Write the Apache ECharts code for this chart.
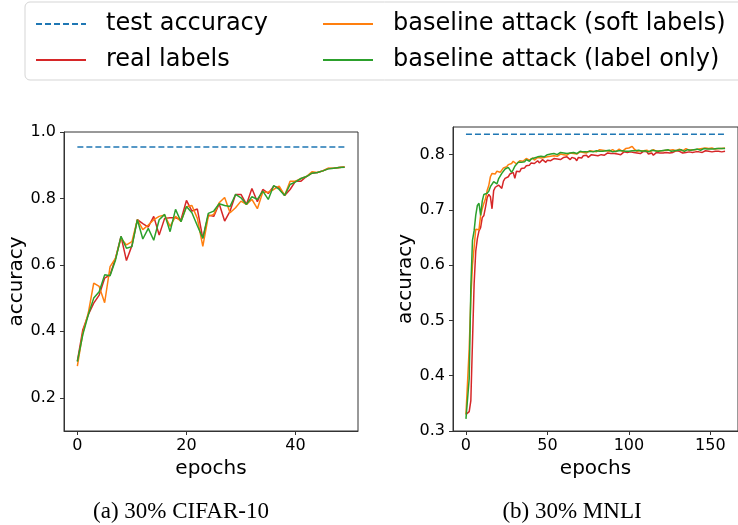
<!DOCTYPE html>
<html>
<head>
<meta charset="utf-8">
<script src="https://cdn.jsdelivr.net/npm/echarts@6/dist/echarts.min.js"></script>
<style>html,body{margin:0;padding:0;background:#fff;}#c{width:738px;height:525px;}</style>
</head>
<body>
<div id="c"></div>
<script>
// ---- data ----
const seriesNames = ['test accuracy', 'real labels', 'baseline attack (soft labels)', 'baseline attack (label only)'];
const captions = ['(a) 30% CIFAR-10', '(b) 30% MNLI'];
const cifarTest = 0.955;
const mnliTest = 0.837;
const cifarXTicks = [0, 20, 40];
const cifarYTicks = [0.2, 0.4, 0.6, 0.8, 1.0];
const mnliXTicks = [0, 50, 100, 150];
const mnliYTicks = [0.3, 0.4, 0.5, 0.6, 0.7, 0.8];

const cifarReal = [
0.310, 0.405, 0.450, 0.485, 0.509, 0.560, 0.570, 0.620, 0.686, 0.613,
0.658, 0.736, 0.724, 0.714, 0.746, 0.690, 0.740, 0.742, 0.742, 0.736,
0.794, 0.762, 0.768, 0.680, 0.750, 0.746, 0.784, 0.732, 0.762, 0.812,
0.812, 0.782, 0.830, 0.790, 0.827, 0.815, 0.837, 0.832, 0.809, 0.827,
0.852, 0.852, 0.866, 0.876, 0.878, 0.883, 0.890, 0.891, 0.893, 0.895];
const cifarSoft = [
0.295, 0.395, 0.455, 0.545, 0.535, 0.486, 0.595, 0.620, 0.680, 0.660,
0.670, 0.736, 0.706, 0.720, 0.736, 0.746, 0.750, 0.716, 0.746, 0.731,
0.775, 0.779, 0.740, 0.656, 0.746, 0.752, 0.787, 0.803, 0.757, 0.772,
0.792, 0.782, 0.797, 0.769, 0.819, 0.819, 0.827, 0.837, 0.809, 0.852,
0.852, 0.860, 0.866, 0.880, 0.878, 0.883, 0.891, 0.891, 0.893, 0.895];
const cifarLabel = [
0.309, 0.390, 0.450, 0.500, 0.519, 0.570, 0.567, 0.615, 0.686, 0.650,
0.655, 0.736, 0.678, 0.710, 0.674, 0.736, 0.752, 0.700, 0.767, 0.730,
0.776, 0.757, 0.718, 0.680, 0.755, 0.762, 0.784, 0.779, 0.776, 0.812,
0.802, 0.782, 0.805, 0.797, 0.822, 0.797, 0.839, 0.827, 0.809, 0.842,
0.850, 0.860, 0.866, 0.876, 0.878, 0.883, 0.889, 0.891, 0.893, 0.894];

const mnliReal = [
0.330, 0.332, 0.335, 0.355, 0.460, 0.565, 0.625, 0.648, 0.662, 0.668,
0.686, 0.690, 0.705, 0.722, 0.728, 0.724, 0.702, 0.735, 0.741, 0.738,
0.745, 0.748, 0.739, 0.752, 0.757, 0.754, 0.760, 0.765, 0.762, 0.768,
0.757, 0.770, 0.772, 0.769, 0.775, 0.778, 0.776, 0.780, 0.783, 0.781,
0.785, 0.787, 0.784, 0.786, 0.789, 0.785, 0.788, 0.791, 0.789, 0.786,
0.790, 0.792, 0.789, 0.791, 0.793, 0.790, 0.792, 0.795, 0.791, 0.793,
0.795, 0.792, 0.796, 0.794, 0.791, 0.795, 0.797, 0.793, 0.789, 0.795,
0.797, 0.794, 0.798, 0.796, 0.799, 0.795, 0.798, 0.800, 0.797, 0.799,
0.801, 0.798, 0.795, 0.800, 0.802, 0.799, 0.801, 0.803, 0.800, 0.802,
0.799, 0.802, 0.804, 0.801, 0.803, 0.800, 0.803, 0.805, 0.802, 0.804,
0.803, 0.805, 0.802, 0.804, 0.806, 0.803, 0.805, 0.802, 0.804, 0.806,
0.803, 0.805, 0.801, 0.800, 0.803, 0.799, 0.802, 0.804, 0.801, 0.803,
0.805, 0.803, 0.806, 0.804, 0.805, 0.803, 0.806, 0.804, 0.805, 0.807,
0.804, 0.806, 0.805, 0.803, 0.806, 0.804, 0.807, 0.805, 0.806, 0.804,
0.806, 0.805, 0.807, 0.805, 0.806, 0.804, 0.806, 0.807, 0.805, 0.806,
0.806, 0.805, 0.807, 0.806, 0.805, 0.806, 0.806, 0.805, 0.806, 0.806];
const mnliSoft = [
0.330, 0.328, 0.450, 0.540, 0.600, 0.632, 0.665, 0.668, 0.664, 0.690,
0.702, 0.712, 0.720, 0.735, 0.744, 0.760, 0.766, 0.768, 0.765, 0.770,
0.772, 0.768, 0.771, 0.776, 0.773, 0.778, 0.782, 0.779, 0.784, 0.788,
0.787, 0.783, 0.785, 0.789, 0.791, 0.788, 0.790, 0.793, 0.792, 0.790,
0.791, 0.794, 0.790, 0.793, 0.795, 0.792, 0.794, 0.797, 0.795, 0.793,
0.796, 0.799, 0.797, 0.794, 0.798, 0.800, 0.797, 0.799, 0.801, 0.798,
0.800, 0.802, 0.799, 0.801, 0.803, 0.800, 0.802, 0.804, 0.801, 0.803,
0.805, 0.802, 0.804, 0.806, 0.803, 0.805, 0.807, 0.804, 0.806, 0.808,
0.805, 0.807, 0.809, 0.806, 0.808, 0.810, 0.807, 0.809, 0.806, 0.808,
0.809, 0.807, 0.805, 0.808, 0.810, 0.808, 0.806, 0.809, 0.811, 0.809,
0.812, 0.810, 0.815, 0.811, 0.808, 0.806, 0.808, 0.807, 0.805, 0.807,
0.806, 0.808, 0.806, 0.805, 0.807, 0.809, 0.807, 0.806, 0.808, 0.807,
0.809, 0.807, 0.806, 0.808, 0.810, 0.808, 0.807, 0.809, 0.808, 0.807,
0.809, 0.810, 0.808, 0.807, 0.809, 0.811, 0.809, 0.808, 0.810, 0.809,
0.810, 0.809, 0.811, 0.810, 0.809, 0.811, 0.810, 0.812, 0.810, 0.811,
0.810, 0.812, 0.811, 0.810, 0.812, 0.811, 0.812, 0.811, 0.812, 0.812];
const mnliLabel = [
0.322, 0.324, 0.395, 0.560, 0.645, 0.662, 0.690, 0.708, 0.712, 0.690,
0.716, 0.728, 0.731, 0.730, 0.734, 0.742, 0.745, 0.751, 0.752, 0.747,
0.756, 0.761, 0.766, 0.769, 0.774, 0.776, 0.777, 0.774, 0.768, 0.773,
0.779, 0.781, 0.786, 0.789, 0.786, 0.783, 0.787, 0.791, 0.792, 0.788,
0.792, 0.791, 0.794, 0.793, 0.796, 0.794, 0.797, 0.799, 0.796, 0.798,
0.800, 0.797, 0.801, 0.799, 0.802, 0.803, 0.800, 0.802, 0.804, 0.801,
0.803, 0.805, 0.802, 0.804, 0.803, 0.806, 0.804, 0.805, 0.802, 0.804,
0.806, 0.803, 0.805, 0.807, 0.805, 0.804, 0.806, 0.807, 0.805, 0.806,
0.807, 0.805, 0.806, 0.808, 0.806, 0.805, 0.807, 0.806, 0.808, 0.806,
0.805, 0.807, 0.806, 0.808, 0.807, 0.805, 0.807, 0.808, 0.806, 0.807,
0.806, 0.808, 0.807, 0.805, 0.807, 0.806, 0.808, 0.807, 0.806, 0.805,
0.807, 0.806, 0.805, 0.807, 0.808, 0.806, 0.807, 0.805, 0.806, 0.808,
0.807, 0.806, 0.808, 0.807, 0.809, 0.807, 0.806, 0.808, 0.807, 0.809,
0.808, 0.807, 0.809, 0.808, 0.806, 0.808, 0.809, 0.807, 0.808, 0.810,
0.809, 0.808, 0.810, 0.809, 0.808, 0.810, 0.811, 0.809, 0.810, 0.809,
0.810, 0.811, 0.810, 0.809, 0.811, 0.810, 0.811, 0.810, 0.811, 0.811];

// ---- build ----
const FONT = 'DejaVu Sans';
const COLORS = ['#1f77b4', '#d62728', '#ff7f0e', '#2ca02c'];
const AX = '#333';
const toXY = arr => arr.map((v, i) => [i, v]);

function xAxis(grid, min, max, ticks) {
  return {
    type: 'value', gridIndex: grid, min: min, max: max,
    name: 'epochs', nameLocation: 'middle', nameGap: 26,
    nameTextStyle: { fontFamily: FONT, fontSize: 20, color: '#000' },
    axisLine: { show: true, onZero: false, lineStyle: { color: AX, width: 1 } },
    axisTick: { show: true, length: 4, customValues: ticks, lineStyle: { color: AX } },
    axisLabel: { customValues: ticks, margin: 7, fontFamily: FONT, fontSize: 16, color: '#000', formatter: v => String(Math.round(v)) },
    splitLine: { show: false }
  };
}
function yAxis(grid, min, max, ticks, gap) {
  return {
    type: 'value', gridIndex: grid, min: min, max: max,
    name: 'accuracy', nameLocation: 'middle', nameGap: gap,
    nameTextStyle: { fontFamily: FONT, fontSize: 20, color: '#000' },
    axisLine: { show: true, onZero: false, lineStyle: { color: AX, width: 1 } },
    axisTick: { show: true, length: 4, customValues: ticks, lineStyle: { color: AX } },
    axisLabel: { customValues: ticks, margin: 8, fontFamily: FONT, fontSize: 16, color: '#000', formatter: v => v.toFixed(1) },
    splitLine: { show: false }
  };
}
function line(name, data, idx, color, dashed) {
  return {
    type: 'line', name: name, xAxisIndex: idx, yAxisIndex: idx, data: data,
    symbol: 'none', showSymbol: false, animation: false,
    lineStyle: { color: color, width: 1.5, type: dashed ? [6, 3] : 'solid' },
    itemStyle: { color: color }
  };
}

const cifarN = cifarReal.length - 1;
const mnliN = mnliReal.length - 1;

const legendText = { fontFamily: FONT, fontSize: 24, color: '#000', padding: [0, 0, 0, 15] };
const legendCommon = {
  orient: 'vertical', top: 12, padding: 0, itemWidth: 50, itemHeight: 14, itemGap: 12,
  textStyle: legendText, lineStyle: { width: 2 }, itemStyle: { opacity: 0, borderWidth: 0 },
  z: 10, selectedMode: false
};
const option = {
  backgroundColor: '#fff',
  animation: false,
  grid: [
    { left: 64, top: 132, width: 294, height: 299, show: true, borderColor: AX, borderWidth: 1, backgroundColor: 'transparent' },
    { left: 453, top: 127, width: 297, height: 304, show: true, borderColor: AX, borderWidth: 1, backgroundColor: 'transparent' }
  ],
  xAxis: [xAxis(0, -2.45, 51.45, cifarXTicks), xAxis(1, -7.95, 166.95, mnliXTicks)],
  yAxis: [yAxis(0, 0.1, 1.0, cifarYTicks, 31), yAxis(1, 0.3, 0.85, mnliYTicks, 36)],
  legend: [
    Object.assign({ data: [seriesNames[0], seriesNames[1]], left: 35 }, legendCommon),
    Object.assign({ data: [seriesNames[2], seriesNames[3]], left: 322 }, legendCommon)
  ],
  graphic: [
    { type: 'rect', z: 0, shape: { x: 25, y: 2, width: 740, height: 78, r: 5 },
      style: { fill: '#fff', stroke: '#d5d5d5', lineWidth: 1 } },
    { type: 'text', z: 5, style: { text: captions[0], x: 181, y: 512, textAlign: 'center', textVerticalAlign: 'middle',
      font: '23px "Liberation Serif"', fill: '#000' } },
    { type: 'text', z: 5, style: { text: captions[1], x: 572, y: 512, textAlign: 'center', textVerticalAlign: 'middle',
      font: '23px "Liberation Serif"', fill: '#000' } }
  ],
  series: [
    line(seriesNames[0], [[0, cifarTest], [cifarN, cifarTest]], 0, COLORS[0], true),
    line(seriesNames[1], toXY(cifarReal), 0, COLORS[1]),
    line(seriesNames[2], toXY(cifarSoft), 0, COLORS[2]),
    line(seriesNames[3], toXY(cifarLabel), 0, COLORS[3]),
    line(seriesNames[0], [[0, mnliTest], [mnliN, mnliTest]], 1, COLORS[0], true),
    line(seriesNames[1], toXY(mnliReal), 1, COLORS[1]),
    line(seriesNames[2], toXY(mnliSoft), 1, COLORS[2]),
    line(seriesNames[3], toXY(mnliLabel), 1, COLORS[3])
  ]
};
const chart = echarts.init(document.getElementById('c'), null, { renderer: 'canvas' });
chart.setOption(option);
</script>
</body>
</html>
